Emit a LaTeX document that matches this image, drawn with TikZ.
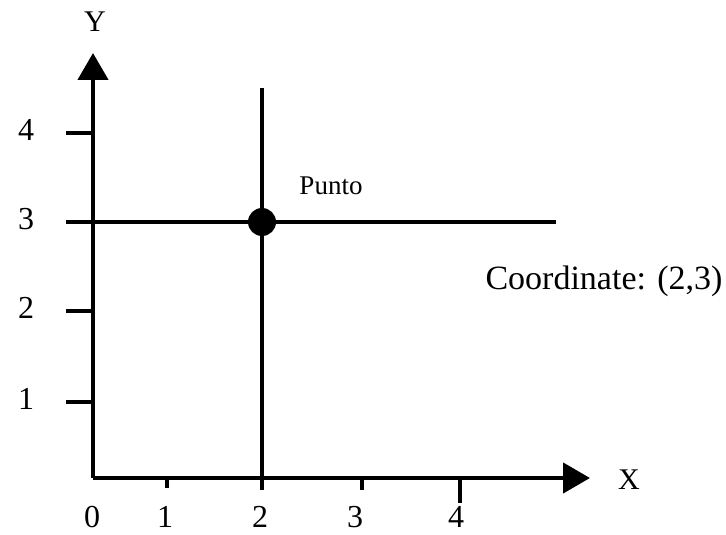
\documentclass[tikz,border=0pt]{standalone}
\usepackage{fontspec}
\setmainfont{Liberation Serif}
\usetikzlibrary{arrows.meta,positioning}
\tikzset{
  axisline/.style={line width=4.5pt, -{Triangle[length=27pt,width=30pt]}},
  guide/.style={line width=3.6pt},
  tickmark/.style={line width=3.6pt},
  ticklabel/.style={font=\fontsize{32}{34}\selectfont, inner sep=0pt},
  axislabel/.style={font=\fontsize{30}{33}\selectfont, inner sep=0pt},
  dot/.style={circle, fill=black, minimum size=28pt, inner sep=0pt},
  note/.style={font=\fontsize{27}{30}\selectfont, inner sep=0pt},
  coordnote/.style={font=\fontsize{34}{38}\selectfont, inner sep=0pt}
}

\begin{document}
\begin{tikzpicture}[x=1pt,y=-1pt]
\useasboundingbox (0,0) rectangle (726,535);

% axes
\coordinate (O) at (93,478);
\coordinate (xtip) at (590,478);
\coordinate (ytip) at (93,53);
\draw[axisline] (O) -- (xtip);
\draw[axisline] (O) -- (ytip);
\node[axislabel] (xlab) at (629,480) {X};
\node[axislabel] (ylab) at (95,22) {Y};

% y ticks
\foreach \lab/\yy in {4/133,3/222,2/311,1/402}{
  \coordinate (yt\lab) at (93,\yy);
  \coordinate (yq\lab) at (66,\yy);
  \draw[tickmark] (yt\lab) -- (yq\lab);
  \node[ticklabel] (yl\lab) at (26,\yy-3) {\lab};
}

% x ticks
\foreach \lab/\xx/\len in {1/167/10,3/362/12,4/460/25}{
  \coordinate (xt\lab) at (\xx,478);
  \coordinate (xq\lab) at (\xx,478+\len);
  \draw[tickmark] (xt\lab) -- (xq\lab);
}
\foreach \lab/\xx in {0/92,1/165,2/260,3/355,4/456}{
  \node[ticklabel] (xl\lab) at (\xx,517) {\lab};
}

% point (2,3)
\coordinate (vtop) at (262,88);
\coordinate (vbot) at (262,490);
\coordinate (hend) at (556,222);
\draw[guide] (vtop) -- (vbot);
\draw[guide] (yq3) -- (hend);
\node[dot] (punto) at (262,222) {};
\node[note] (puntolab) at (331,186) {Punto};
\node[coordnote] (coordlab) at (604,281) {Coordinate: (2,3)};

\end{tikzpicture}
\end{document}
